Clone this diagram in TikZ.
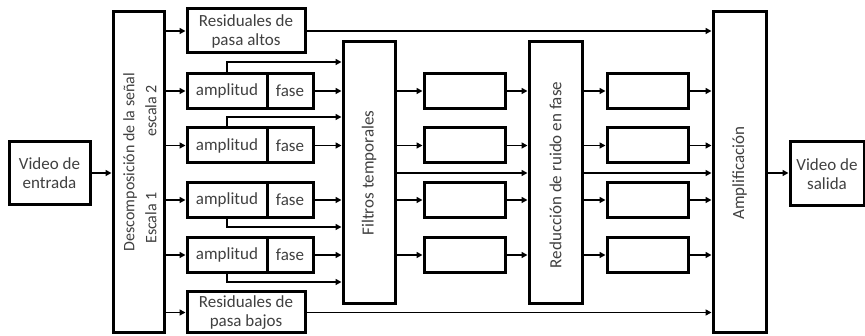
\documentclass[tikz,border=0pt]{standalone}
\usepackage{fontspec}
\setmainfont{Carlito}
\usetikzlibrary{arrows.meta}
\begin{document}
\begin{tikzpicture}[x=1pt,y=-1pt,
  box/.style={draw=black, line width=3pt, fill=white, inner sep=0pt, align=center, text=black!75, font=\fontsize{17}{19}\selectfont},
  lbl/.style={inner sep=0pt, text=black!75, font=\fontsize{17}{19}\selectfont},
  arr/.style={line width=1.6pt, -{Triangle[length=6pt,width=6pt]}}]
\useasboundingbox (0,0) rectangle (865,336);
% blocks
\node[box, minimum width=81pt, minimum height=63pt] (in) at (49.5,173.5) {Video de\\entrada};
\node[box, minimum width=51pt, minimum height=321pt] (dec) at (138.5,172.5) {};
\node[lbl, rotate=90, font=\fontsize{16}{18}\selectfont] (dect) at (130,162) {Descomposición de la señal};
\node[lbl, rotate=90, font=\fontsize{16}{18}\selectfont] (decb) at (151,218) {Escala 1};
\node[lbl, rotate=90, font=\fontsize{16}{18}\selectfont] (dects) at (151,111) {escala 2};
\node[box, minimum width=118pt, minimum height=44pt] (ra) at (246,31) {Residuales de\\pasa altos};
\node[box, minimum width=118pt, minimum height=41pt] (rb) at (246,312.5) {Residuales de\\pasa bajos};
\foreach \i/\y in {1/91,2/145.5,3/200,4/255}{
  \node[box, minimum width=80pt, minimum height=35pt] (a\i) at (227,\y) {amplitud};
  \node[box, minimum width=46pt, minimum height=35pt] (f\i) at (290,\y) {fase};
  \node[box, minimum width=81pt, minimum height=35pt] (m\i) at (464.5,\y) {};
  \node[box, minimum width=81pt, minimum height=35pt] (r\i) at (647.5,\y) {};
}
\node[box, minimum width=52pt, minimum height=262pt] (ft) at (369,173) {};
\node[lbl, rotate=90] (ftt) at (369,173) {Filtros temporales};
\node[box, minimum width=53pt, minimum height=262pt] (rd) at (555.5,173) {};
\node[lbl, rotate=90] (rdt) at (555.5,175) {Reducción de ruido en fase};
\node[box, minimum width=53pt, minimum height=321pt] (amp) at (739.5,172.5) {};
\node[lbl, rotate=90] (ampt) at (739.5,173) {Amplificación};
\node[box, minimum width=74pt, minimum height=64pt] (out) at (827,174) {Video de\\salida};
% branch levels
\coordinate (b1) at (0,62);
\coordinate (b2) at (0,117);
\coordinate (b3) at (0,227);
\coordinate (b4) at (0,282);
\coordinate (mid) at (0,173);
% connectors
\draw[arr] (in.east |- mid) -- (dec.west |- mid);
\draw[arr] (dec.east |- ra) -- (ra.west);
\draw[arr] (dec.east |- rb) -- (rb.west);
\draw[arr] (ra.east) -- (ra.east -| amp.west);
\draw[arr] (rb.east) -- (rb.east -| amp.west);
\foreach \i in {1,2,3,4}{
  \draw[arr] (dec.east |- a\i) -- (a\i.west);
  \draw[arr] (f\i.east) -- (f\i.east -| ft.west);
  \draw[arr] (ft.east |- m\i) -- (m\i.west);
  \draw[arr] (m\i.east) -- (m\i.east -| rd.west);
  \draw[arr] (rd.east |- r\i) -- (r\i.west);
  \draw[arr] (r\i.east) -- (r\i.east -| amp.west);
}
\draw[arr] (a1.north) |- (ft.west |- b1);
\draw[arr] (a2.north) |- (ft.west |- b2);
\draw[arr] (a3.south) |- (ft.west |- b3);
\draw[arr] (a4.south) |- (ft.west |- b4);
\draw[arr] (ft.east |- mid) -- (rd.west |- mid);
\draw[arr] (rd.east |- mid) -- (amp.west |- mid);
\draw[arr] (amp.east |- mid) -- (out.west |- mid);
\end{tikzpicture}
\end{document}
